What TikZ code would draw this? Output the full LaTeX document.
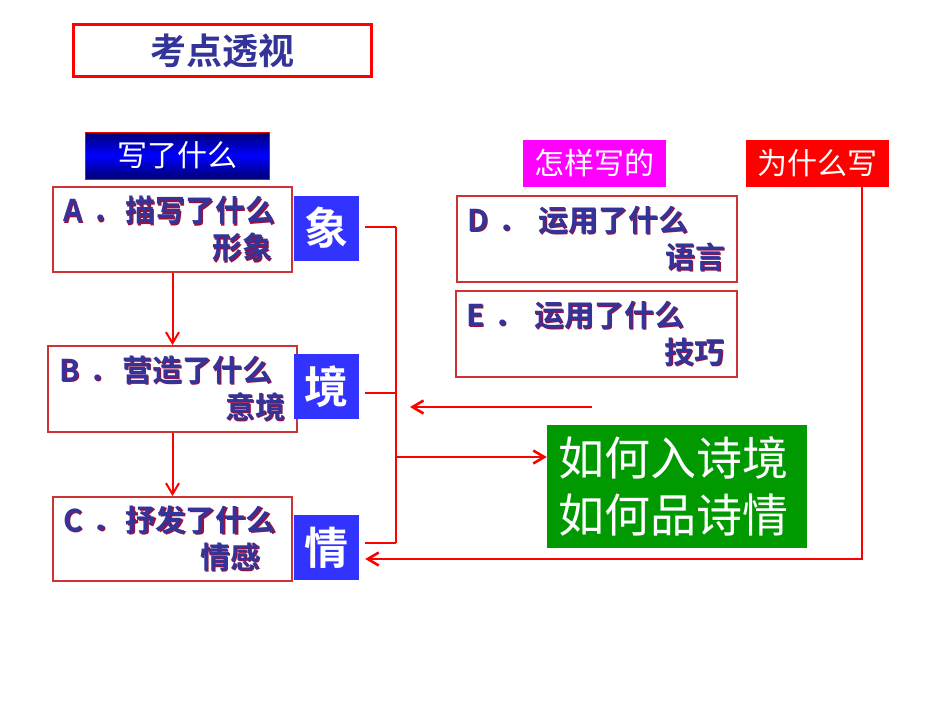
\documentclass[tikz,border=0pt]{standalone}
\usepackage{fontspec}
\setmainfont{Noto Sans CJK SC}[BoldFont={Noto Sans CJK SC Bold}]
\usetikzlibrary{arrows.meta}
\definecolor{txtblue}{HTML}{333399}
\definecolor{shadowred}{HTML}{99113F}
\definecolor{boxred}{HTML}{CC3333}
\definecolor{sqblue}{HTML}{3333FF}
\definecolor{tagpink}{HTML}{FF00FF}
\definecolor{tagred}{HTML}{FF0000}
\definecolor{goalgreen}{HTML}{009900}
\newcommand\shtext[1]{\makebox[0pt][l]{\hspace{1.5pt}\raisebox{-1.5pt}{\color{shadowred}#1}}\textcolor{txtblue}{#1}}
\begin{document}
\begin{tikzpicture}[x=1pt, y=-1pt,
	redline/.style={draw=red, line width=2.6pt},
	redarrow/.style={redline, -{Straight Barb[length=11pt,width=13pt]}},
	txtbox/.style={draw=boxred, line width=1.8pt, fill=white, inner xsep=10pt, inner ysep=0pt, align=left,
		font=\fontsize{30pt}{37pt}\selectfont\bfseries},
	square/.style={fill=sqblue, minimum size=65pt, inner sep=0pt, text=white,
		font=\fontsize{44pt}{48pt}\selectfont\bfseries},
	tag/.style={minimum width=143pt, minimum height=47pt, inner sep=0pt, text=white,
		font=\fontsize{30pt}{34pt}\selectfont}]
	\useasboundingbox (0,0) rectangle (950,713);

	% titles
	\node[draw=red, line width=3pt, minimum width=298pt, minimum height=52pt, inner sep=0pt,
		font=\fontsize{36pt}{40pt}\selectfont\bfseries, text=txtblue] (title) at (222.5,50.5) {考点透视};
	\node[tag, draw=red, line width=1pt, minimum width=184pt, minimum height=47pt,
		top color=blue!45!black, bottom color=blue!45!black, middle color=blue] (what) at (177.5,155.5) {写了什么};
	\node[tag, fill=tagpink] (how) at (594.5,163.5) {怎样写的};
	\node[tag, fill=tagred] (why) at (817.5,163.5) {为什么写};

	% left column
	\node[txtbox, minimum height=85pt, text width=219pt] (boxA) at (172.5,229.5)
		{\shtext{A ．\kern3pt描写了什么}\\\hspace*{149pt}\shtext{形象}};
	\node[txtbox, minimum height=86pt, text width=227pt, inner xsep=11pt] (boxB) at (172.5,389)
		{\shtext{B ．\kern3pt营造了什么}\\\hspace*{166pt}\shtext{意境}};
	\node[txtbox, minimum height=84pt, text width=219pt] (boxC) at (172.5,539)
		{\shtext{C ．\kern3pt抒发了什么}\\\hspace*{137pt}\shtext{情感}};

	\node[square] (xiang) at (326.5,228) {象};
	\node[square] (jing) at (326.5,386.5) {境};
	\node[square] (qing) at (326.5,547.5) {情};

	% right column
	\node[txtbox, minimum height=86pt, text width=260pt] (boxD) at (597,239)
		{\shtext{D ． 运用了什么}\\\hspace*{198pt}\shtext{语言}};
	\node[txtbox, minimum height=86pt, text width=261pt] (boxE) at (596.5,334)
		{\shtext{E ． 运用了什么}\\\hspace*{198pt}\shtext{技巧}};

	\node[fill=goalgreen, minimum width=260pt, minimum height=123pt, inner xsep=11pt, text width=238pt,
		align=left, text=white, font=\fontsize{46pt}{57pt}\selectfont] (goal) at (677,486.5)
		{如何入诗境\\如何品诗情};

	% connectors
	\coordinate (j1) at (396,227);
	\coordinate (j2) at (396,393);
	\coordinate (j3) at (396,543);
	\coordinate (jmid) at (396,457);
	\coordinate (ein) at (592,407);
	\coordinate (eout) at (410,407);
	\coordinate (w) at (862,559);

	\draw[redarrow, line width=2pt] (boxA) -- (boxB);
	\draw[redarrow, line width=2pt] (boxB) -- (boxC);

	\draw[redline] (j1) -- (j3);
	\draw[redline, shorten <=6pt] (xiang.east |- j1) -- (j1);
	\draw[redline, shorten <=6pt] (jing.east |- j2) -- (j2);
	\draw[redline, shorten <=6pt] (qing.east |- j3) -- (j3);
	\draw[redarrow] (jmid) -- (goal.west |- jmid);
	\draw[redarrow] (ein) -- (eout);
	\draw[redarrow, shorten >=6pt] (w |- why.south) -- (w) -- (qing.east |- w);

\end{tikzpicture}
\end{document}
